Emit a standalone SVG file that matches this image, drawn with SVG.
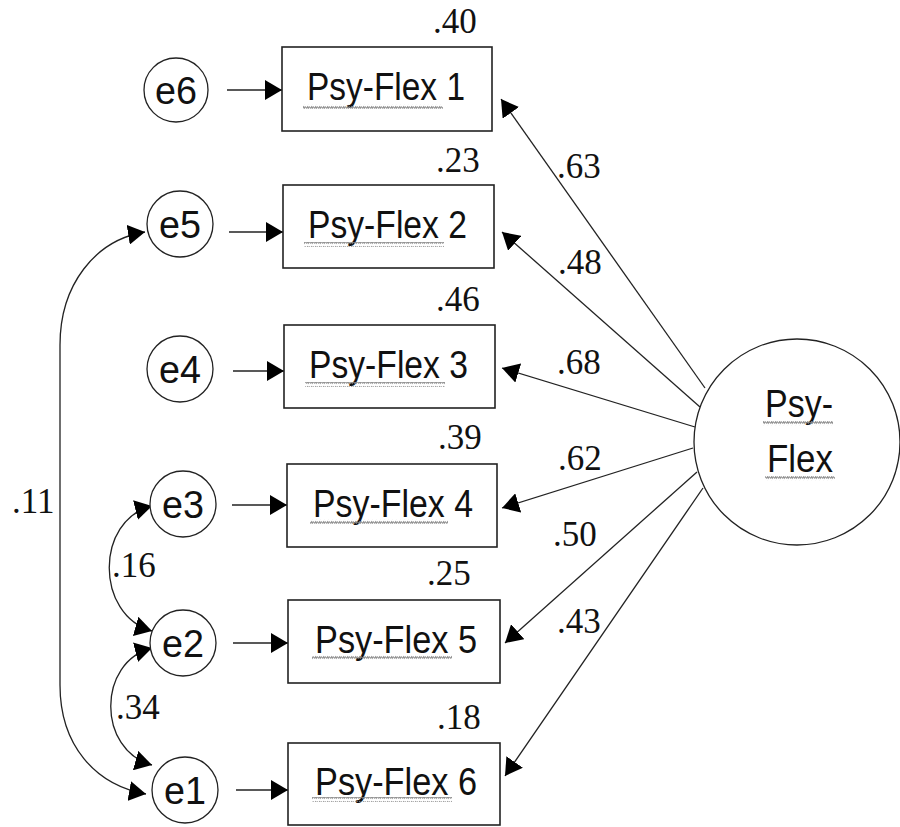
<svg xmlns="http://www.w3.org/2000/svg" width="900" height="827" viewBox="0 0 900 827">
<style>
.box{fill:#fff;stroke:#222;stroke-width:1.6}
.err{fill:#fff;stroke:#222;stroke-width:1.3}
.lbl{font-family:"Liberation Sans",Arial,sans-serif;font-size:39px;fill:#111}
.num{font-family:"Liberation Serif","Times New Roman",serif;font-size:35px;fill:#111}
.ln{fill:none;stroke:#222;stroke-width:1.3}
.wav{fill:url(#wave)}
</style>
<defs>
<marker id="ah" viewBox="0 0 17 20" refX="17" refY="10" markerWidth="17" markerHeight="20" markerUnits="userSpaceOnUse" orient="auto-start-reverse">
<path d="M0,0 L17,10 L0,20 z" fill="#000"/>
</marker>
<pattern id="wave" patternUnits="userSpaceOnUse" width="4" height="5">
<path d="M0,4 Q1,0.5 2,2.5 Q3,4.5 4,1" fill="none" stroke="#8a8a8a" stroke-width="1.1"/>
</pattern>
</defs>

<g id="connectors">
<path class="ln" marker-end="url(#ah)" d="M227,90 L282,90"/>
<path class="ln" marker-end="url(#ah)" d="M229,232 L283,232"/>
<path class="ln" marker-end="url(#ah)" d="M233,371 L284,371"/>
<path class="ln" marker-end="url(#ah)" d="M232,505 L287,505"/>
<path class="ln" marker-end="url(#ah)" d="M233,643 L288,643"/>
<path class="ln" marker-end="url(#ah)" d="M236,790 L288,790"/>
<path class="ln" marker-end="url(#ah)" d="M705,388 L501,99"/>
<path class="ln" marker-end="url(#ah)" d="M700,407 L502,232"/>
<path class="ln" marker-end="url(#ah)" d="M695,427 L502,368"/>
<path class="ln" marker-end="url(#ah)" d="M693,448 L502,508"/>
<path class="ln" marker-end="url(#ah)" d="M697,472 L505,643"/>
<path class="ln" marker-end="url(#ah)" d="M703,488 L505,776"/>
<path class="ln" marker-start="url(#ah)" marker-end="url(#ah)" d="M145,232 C95,240 60,285 60,345 L60,685 C60,745 95,785 146,794"/>
<path class="ln" marker-start="url(#ah)" marker-end="url(#ah)" d="M152,506 C95,520 95,615 152,631"/>
<path class="ln" marker-start="url(#ah)" marker-end="url(#ah)" d="M152,648 C97,662 97,750 152,765"/>
<text class="num" x="557" y="178">.63</text>
<text class="num" x="558" y="274">.48</text>
<text class="num" x="557" y="374">.68</text>
<text class="num" x="558" y="470">.62</text>
<text class="num" x="553" y="546">.50</text>
<text class="num" x="557" y="633">.43</text>
<text class="num" x="12" y="513">.11</text>
<text class="num" x="112" y="577">.16</text>
<text class="num" x="116" y="719">.34</text>
</g>

<g id="PF1">
<rect class="box" x="282" y="47" width="210" height="84"/>
<text class="lbl" x="307" y="100" textLength="158" lengthAdjust="spacingAndGlyphs">Psy-Flex 1</text>
<rect class="wav" x="303" y="104" width="140" height="5"/>
<text class="num" x="433" y="33">.40</text>
</g>
<g id="PF2">
<rect class="box" x="283" y="185" width="211" height="83"/>
<text class="lbl" x="308" y="238" textLength="159" lengthAdjust="spacingAndGlyphs">Psy-Flex 2</text>
<rect class="wav" x="304" y="242" width="140" height="5"/>
<text class="num" x="436" y="172">.23</text>
</g>
<g id="PF3">
<rect class="box" x="284" y="325" width="211" height="83"/>
<text class="lbl" x="309" y="378" textLength="159" lengthAdjust="spacingAndGlyphs">Psy-Flex 3</text>
<rect class="wav" x="305" y="382" width="140" height="5"/>
<text class="num" x="436" y="311">.46</text>
</g>
<g id="PF4">
<rect class="box" x="287" y="464" width="210" height="83"/>
<text class="lbl" x="313" y="517" textLength="160" lengthAdjust="spacingAndGlyphs">Psy-Flex 4</text>
<rect class="wav" x="310" y="519" width="138" height="5"/>
<text class="num" x="438" y="449">.39</text>
</g>
<g id="PF5">
<rect class="box" x="288" y="600" width="212" height="83"/>
<text class="lbl" x="315" y="653" textLength="162" lengthAdjust="spacingAndGlyphs">Psy-Flex 5</text>
<rect class="wav" x="312" y="655" width="140" height="5"/>
<text class="num" x="427" y="585">.25</text>
</g>
<g id="PF6">
<rect class="box" x="288" y="743" width="212" height="82"/>
<text class="lbl" x="315" y="795" textLength="162" lengthAdjust="spacingAndGlyphs">Psy-Flex 6</text>
<rect class="wav" x="312" y="797" width="140" height="5"/>
<text class="num" x="437" y="729">.18</text>
</g>

<g id="e6"><circle class="err" cx="176" cy="90" r="32"/><text class="lbl" x="176" y="104" text-anchor="middle" font-size="40" textLength="42" lengthAdjust="spacingAndGlyphs">e6</text></g>
<g id="e5"><circle class="err" cx="180" cy="224" r="33"/><text class="lbl" x="180" y="238" text-anchor="middle" font-size="40" textLength="42" lengthAdjust="spacingAndGlyphs">e5</text></g>
<g id="e4"><circle class="err" cx="180" cy="369" r="33"/><text class="lbl" x="180" y="383" text-anchor="middle" font-size="40" textLength="42" lengthAdjust="spacingAndGlyphs">e4</text></g>
<g id="e3"><circle class="err" cx="183" cy="504" r="33"/><text class="lbl" x="183" y="518" text-anchor="middle" font-size="40" textLength="42" lengthAdjust="spacingAndGlyphs">e3</text></g>
<g id="e2"><circle class="err" cx="183" cy="643" r="33"/><text class="lbl" x="183" y="657" text-anchor="middle" font-size="40" textLength="42" lengthAdjust="spacingAndGlyphs">e2</text></g>
<g id="e1"><circle class="err" cx="185" cy="790" r="33"/><text class="lbl" x="185" y="804" text-anchor="middle" font-size="40" textLength="42" lengthAdjust="spacingAndGlyphs">e1</text></g>

<g id="PsyFlex">
<circle class="err" cx="797" cy="442" r="103"/>
<text class="lbl" x="765" y="417" font-size="37" textLength="68" lengthAdjust="spacingAndGlyphs">Psy-</text>
<rect class="wav" x="763" y="421" width="70" height="5"/>
<text class="lbl" x="767" y="472" font-size="37" textLength="66" lengthAdjust="spacingAndGlyphs">Flex</text>
<rect class="wav" x="765" y="476" width="70" height="5"/>
</g>
</svg>
